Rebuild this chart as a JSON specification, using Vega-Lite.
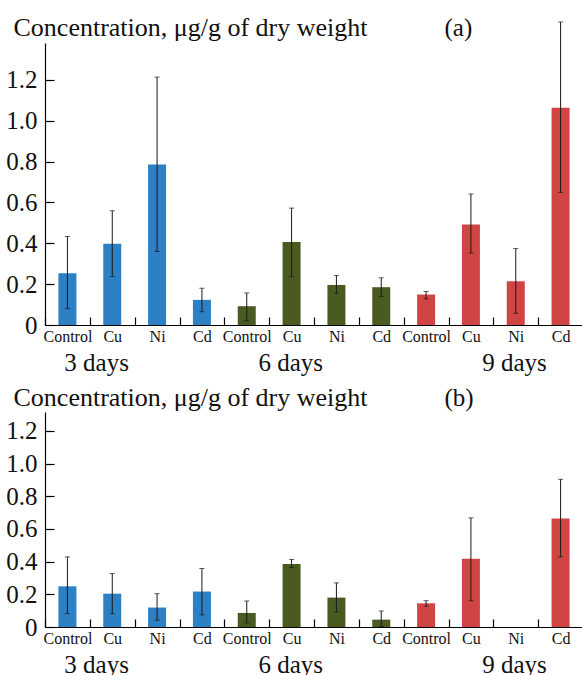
{
  "$schema": "https://vega.github.io/schema/vega-lite/v6.json",
  "padding": {"left": 5, "top": 14, "right": 0, "bottom": 0},
  "spacing": 9,
  "config": {
    "font": "Liberation Serif",
    "view": {"stroke": null},
    "axis": {"grid": false, "domainColor": "#000", "tickColor": "#000", "labelColor": "#111", "titleColor": "#111", "titleFontWeight": "normal", "labelFont": "Liberation Serif", "titleFont": "Liberation Serif", "domainWidth": 1.2, "tickWidth": 1.2, "labelOverlap": false},
    "axisY": {"values": [0, 0.2, 0.4, 0.6, 0.8, 1.0, 1.2], "labelExpr": "datum.value == 0 ? '0' : format(datum.value, '.1f')", "labelFontSize": 25, "tickSize": -9, "labelPadding": 17, "labelOverlap": false, "titleAngle": 0, "titleX": -32, "titleAlign": "left", "titleBaseline": "alphabetic", "titleFontSize": 26}
  },
  "datasets": {
    "a": [
      {"id": "3|Control", "day": "3 days", "value": 0.253, "lo": 0.08, "hi": 0.433},
      {"id": "3|Cu", "day": "3 days", "value": 0.397, "lo": 0.237, "hi": 0.559},
      {"id": "3|Ni", "day": "3 days", "value": 0.785, "lo": 0.36, "hi": 1.213},
      {"id": "3|Cd", "day": "3 days", "value": 0.123, "lo": 0.065, "hi": 0.18},
      {"id": "6|Control", "day": "6 days", "value": 0.092, "lo": 0.021, "hi": 0.157},
      {"id": "6|Cu", "day": "6 days", "value": 0.406, "lo": 0.237, "hi": 0.572},
      {"id": "6|Ni", "day": "6 days", "value": 0.196, "lo": 0.155, "hi": 0.242},
      {"id": "6|Cd", "day": "6 days", "value": 0.185, "lo": 0.139, "hi": 0.231},
      {"id": "9|Control", "day": "9 days", "value": 0.149, "lo": 0.128, "hi": 0.164},
      {"id": "9|Cu", "day": "9 days", "value": 0.492, "lo": 0.352, "hi": 0.641},
      {"id": "9|Ni", "day": "9 days", "value": 0.214, "lo": 0.057, "hi": 0.374},
      {"id": "9|Cd", "day": "9 days", "value": 1.063, "lo": 0.649, "hi": 1.483}
    ],
    "b": [
      {"id": "3|Control", "day": "3 days", "value": 0.249, "lo": 0.082, "hi": 0.429},
      {"id": "3|Cu", "day": "3 days", "value": 0.204, "lo": 0.082, "hi": 0.327},
      {"id": "3|Ni", "day": "3 days", "value": 0.119, "lo": 0.041, "hi": 0.204},
      {"id": "3|Cd", "day": "3 days", "value": 0.217, "lo": 0.074, "hi": 0.358},
      {"id": "6|Control", "day": "6 days", "value": 0.086, "lo": 0.025, "hi": 0.159},
      {"id": "6|Cu", "day": "6 days", "value": 0.386, "lo": 0.364, "hi": 0.413},
      {"id": "6|Ni", "day": "6 days", "value": 0.18, "lo": 0.092, "hi": 0.27},
      {"id": "6|Cd", "day": "6 days", "value": 0.045, "lo": 0.004, "hi": 0.098},
      {"id": "9|Control", "day": "9 days", "value": 0.145, "lo": 0.127, "hi": 0.161},
      {"id": "9|Cu", "day": "9 days", "value": 0.417, "lo": 0.161, "hi": 0.668},
      {"id": "9|Ni", "day": "9 days", "value": 0, "lo": null, "hi": null},
      {"id": "9|Cd", "day": "9 days", "value": 0.664, "lo": 0.429, "hi": 0.904}
    ],
    "days": [
      {"day": "3 days", "n": 3},
      {"day": "6 days", "n": 6},
      {"day": "9 days", "n": 9}
    ]
  },
  "vconcat": [
    {
      "width": 538,
      "height": 282,
      "layer": [
        {
          "data": {"name": "a"},
          "encoding": {
            "x": {
              "field": "id", "type": "nominal", "sort": null,
              "scale": {"paddingInner": 0, "paddingOuter": 0},
              "axis": {
                "orient": "bottom",
                "title": "(a)", "titleX": 399, "titleY": -290, "titleAlign": "left", "titleBaseline": "alphabetic", "titleFontSize": 25,
                "labelExpr": "split(datum.label, '|')[1]", "labelAngle": 0, "labelFontSize": 16, "labelBaseline": "alphabetic", "labelPadding": 24,
                "tickSize": -8, "tickBand": "extent", "labelOverlap": false
              }
            }
          },
          "layer": [
            {
              "mark": {"type": "bar", "size": 18},
              "encoding": {
                "y": {
                  "field": "value", "type": "quantitative",
                  "scale": {"domain": [0, 1.38], "nice": false},
                  "axis": {"title": "Concentration, μg/g of dry weight", "titleY": -8}
                },
                "color": {"field": "day", "type": "nominal", "scale": {"domain": ["3 days", "6 days", "9 days"], "range": ["#2C80C3", "#4A5B22", "#D04444"]}, "legend": null}
              }
            },
            {
              "mark": {"type": "rule", "color": "#1a1a1a", "strokeWidth": 1},
              "encoding": {"y": {"field": "lo", "type": "quantitative", "axis": {"title": "Concentration, μg/g of dry weight", "titleY": -8}}, "y2": {"field": "hi"}}
            },
            {
              "mark": {"type": "tick", "color": "#1a1a1a", "size": 5, "thickness": 1},
              "encoding": {"y": {"field": "hi", "type": "quantitative", "axis": {"title": "Concentration, μg/g of dry weight", "titleY": -8}}}
            },
            {
              "mark": {"type": "tick", "color": "#1a1a1a", "size": 5, "thickness": 1},
              "encoding": {"y": {"field": "lo", "type": "quantitative", "axis": {"title": "Concentration, μg/g of dry weight", "titleY": -8}}}
            }
          ]
        },
        {
          "data": {"name": "days"},
          "mark": {"type": "point", "opacity": 0},
          "encoding": {
            "x": {
              "field": "n", "type": "quantitative",
              "scale": {"domain": [0, 12], "nice": false, "zero": false},
              "axis": {
                "orient": "bottom", "title": null, "domain": false, "ticks": false,
                "values": [1.14, 5.47, 10.46],
                "labelExpr": "datum.value < 3 ? '3 days' : datum.value < 8 ? '6 days' : '9 days'",
                "labelFontSize": 25, "labelBaseline": "alphabetic", "labelPadding": 45, "labelFlush": false, "labelOverlap": false
              }
            }
          }
        }
      ],
      "resolve": {"scale": {"x": "independent"}, "axis": {"x": "independent"}}
    },
    {
      "width": 538,
      "height": 215,
      "layer": [
        {
          "data": {"name": "b"},
          "encoding": {
            "x": {
              "field": "id", "type": "nominal", "sort": null,
              "scale": {"paddingInner": 0, "paddingOuter": 0},
              "axis": {
                "orient": "bottom",
                "title": "(b)", "titleX": 399, "titleY": -222, "titleAlign": "left", "titleBaseline": "alphabetic", "titleFontSize": 25,
                "labelExpr": "split(datum.label, '|')[1]", "labelAngle": 0, "labelFontSize": 16, "labelBaseline": "alphabetic", "labelPadding": 24,
                "tickSize": -8, "tickBand": "extent", "labelOverlap": false
              }
            }
          },
          "layer": [
            {
              "mark": {"type": "bar", "size": 18},
              "encoding": {
                "y": {
                  "field": "value", "type": "quantitative",
                  "scale": {"domain": [0, 1.316], "nice": false},
                  "axis": {"title": "Concentration, μg/g of dry weight", "titleY": -7}
                },
                "color": {"field": "day", "type": "nominal", "scale": {"domain": ["3 days", "6 days", "9 days"], "range": ["#2C80C3", "#4A5B22", "#D04444"]}, "legend": null}
              }
            },
            {
              "mark": {"type": "rule", "color": "#1a1a1a", "strokeWidth": 1},
              "encoding": {"y": {"field": "lo", "type": "quantitative", "axis": {"title": "Concentration, μg/g of dry weight", "titleY": -7}}, "y2": {"field": "hi"}}
            },
            {
              "mark": {"type": "tick", "color": "#1a1a1a", "size": 5, "thickness": 1},
              "encoding": {"y": {"field": "hi", "type": "quantitative", "axis": {"title": "Concentration, μg/g of dry weight", "titleY": -7}}}
            },
            {
              "mark": {"type": "tick", "color": "#1a1a1a", "size": 5, "thickness": 1},
              "encoding": {"y": {"field": "lo", "type": "quantitative", "axis": {"title": "Concentration, μg/g of dry weight", "titleY": -7}}}
            }
          ]
        },
        {
          "data": {"name": "days"},
          "mark": {"type": "point", "opacity": 0},
          "encoding": {
            "x": {
              "field": "n", "type": "quantitative",
              "scale": {"domain": [0, 12], "nice": false, "zero": false},
              "axis": {
                "orient": "bottom", "title": null, "domain": false, "ticks": false,
                "values": [1.14, 5.47, 10.46],
                "labelExpr": "datum.value < 3 ? '3 days' : datum.value < 8 ? '6 days' : '9 days'",
                "labelFontSize": 25, "labelBaseline": "alphabetic", "labelPadding": 45, "labelFlush": false, "labelOverlap": false
              }
            }
          }
        }
      ],
      "resolve": {"scale": {"x": "independent"}, "axis": {"x": "independent"}}
    }
  ]
}
